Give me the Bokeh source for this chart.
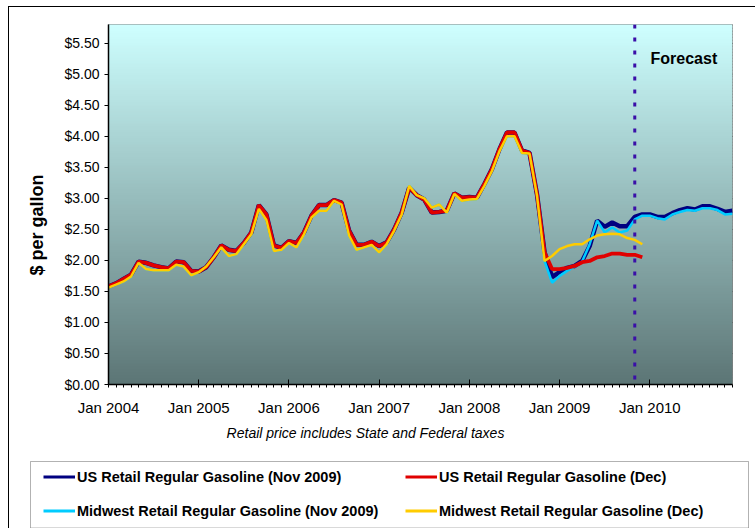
import numpy as np
from bokeh.plotting import figure
from bokeh.layouts import column
from bokeh.models import (Range1d, FixedTicker, NumeralTickFormatter, Span, Label,
                          Legend, LegendItem, Title, BoxAnnotation)
from bokeh.embed import file_html
from bokeh.resources import INLINE

# ---------------- data ----------------
years = [2004, 2005, 2006, 2007, 2008, 2009, 2010]
month_names = ["Jan", "Feb", "Mar", "Apr", "May", "Jun",
               "Jul", "Aug", "Sep", "Oct", "Nov", "Dec"]
months = [f"{m} {y}" for y in years for m in month_names]   # Jan 2004 .. Dec 2010
tick_labels = ["Jan 2004", "Jan 2005", "Jan 2006", "Jan 2007",
               "Jan 2008", "Jan 2009", "Jan 2010"]

# US Retail Regular Gasoline (Dec) - Jan 2004 .. Dec 2009
us_dec = [1.58, 1.63, 1.70, 1.77, 1.98, 1.96, 1.92, 1.89, 1.87, 1.98, 1.97, 1.83,
          1.82, 1.89, 2.05, 2.24, 2.17, 2.15, 2.28, 2.45, 2.89, 2.74, 2.24, 2.20,
          2.31, 2.28, 2.45, 2.72, 2.89, 2.89, 2.97, 2.93, 2.48, 2.25, 2.25, 2.30,
          2.23, 2.29, 2.50, 2.77, 3.17, 3.05, 2.98, 2.77, 2.78, 2.80, 3.08, 3.01,
          3.02, 3.01, 3.23, 3.47, 3.79, 4.06, 4.06, 3.77, 3.73, 3.06, 2.13, 1.86,
          1.86, 1.88, 1.91, 1.97, 1.99, 2.05, 2.07, 2.11, 2.11, 2.09, 2.09, 2.05]

# Midwest Retail Regular Gasoline (Dec) - Jan 2004 .. Dec 2009
mw_dec = [1.56, 1.61, 1.66, 1.74, 1.96, 1.86, 1.84, 1.84, 1.84, 1.93, 1.90, 1.76,
          1.81, 1.90, 2.05, 2.21, 2.07, 2.10, 2.26, 2.42, 2.83, 2.65, 2.15, 2.17,
          2.28, 2.21, 2.42, 2.69, 2.80, 2.80, 2.96, 2.90, 2.40, 2.17, 2.21, 2.25,
          2.13, 2.26, 2.48, 2.74, 3.20, 3.05, 3.00, 2.85, 2.90, 2.77, 3.07, 2.96,
          2.98, 2.99, 3.20, 3.44, 3.76, 4.00, 4.00, 3.73, 3.72, 3.04, 1.99, 2.07,
          2.18, 2.23, 2.26, 2.26, 2.34, 2.40, 2.42, 2.43, 2.42, 2.36, 2.33, 2.26]

# US Retail Regular Gasoline (Nov 2009) - Jan 2004 .. Dec 2010
us_nov = [1.58, 1.63, 1.70, 1.77, 1.98, 1.96, 1.92, 1.89, 1.87, 1.98, 1.97, 1.83,
          1.82, 1.89, 2.05, 2.24, 2.17, 2.15, 2.28, 2.45, 2.89, 2.74, 2.24, 2.20,
          2.31, 2.28, 2.45, 2.72, 2.89, 2.89, 2.97, 2.93, 2.48, 2.25, 2.25, 2.30,
          2.23, 2.29, 2.50, 2.77, 3.17, 3.05, 2.98, 2.77, 2.78, 2.80, 3.08, 3.01,
          3.02, 3.01, 3.23, 3.47, 3.79, 4.06, 4.06, 3.77, 3.73, 3.06, 2.13, 1.73,
          1.81, 1.88, 1.91, 1.99, 2.23, 2.64, 2.54, 2.61, 2.55, 2.55, 2.70, 2.74,
          2.74, 2.70, 2.70, 2.76, 2.81, 2.84, 2.82, 2.87, 2.87, 2.83, 2.78, 2.80]

# Midwest Retail Regular Gasoline (Nov 2009) - Jan 2004 .. Dec 2010
mw_nov = [1.56, 1.61, 1.66, 1.74, 1.96, 1.86, 1.84, 1.84, 1.84, 1.93, 1.90, 1.76,
          1.81, 1.90, 2.05, 2.21, 2.07, 2.10, 2.26, 2.42, 2.83, 2.65, 2.15, 2.17,
          2.28, 2.21, 2.42, 2.69, 2.80, 2.80, 2.96, 2.90, 2.40, 2.17, 2.21, 2.25,
          2.13, 2.26, 2.48, 2.74, 3.20, 3.05, 3.00, 2.85, 2.90, 2.77, 3.07, 2.96,
          2.98, 2.99, 3.20, 3.44, 3.76, 4.00, 4.00, 3.73, 3.72, 3.04, 1.99, 1.64,
          1.75, 1.83, 1.90, 1.98, 2.26, 2.64, 2.45, 2.53, 2.45, 2.48, 2.66, 2.72,
          2.72, 2.68, 2.66, 2.74, 2.78, 2.81, 2.80, 2.84, 2.84, 2.81, 2.74, 2.75]

series_names = ["US Retail Regular Gasoline (Nov 2009)",
                "US Retail Regular Gasoline (Dec)",
                "Midwest Retail Regular Gasoline (Nov 2009)",
                "Midwest Retail Regular Gasoline (Dec)"]
series_colors = ["#000080", "#E00000", "#00CCFF", "#FFCC00"]

forecast_month = "Nov 2009"
y_ticks = [0.0, 0.5, 1.0, 1.5, 2.0, 2.5, 3.0, 3.5, 4.0, 4.5, 5.0, 5.5]

# ---------------- main figure ----------------
FONT = "Liberation Sans"
x_all = list(range(len(months)))
x_dec = list(range(len(us_dec)))
W = 746

p = figure(width=W, height=411, output_backend="svg", toolbar_location=None,
           x_range=Range1d(0, len(months) - 1), y_range=Range1d(0, 5.8),
           min_border_left=97, min_border_right=23, min_border_top=17,
           min_border_bottom=34, background_fill_color="white",
           border_fill_color="white", outline_line_color="#808080",
           outline_line_width=1)

# background gradient of the plot area
n_bands = 120
edges = np.linspace(0, 5.8, n_bands + 1)
top_rgb = np.array([206, 255, 255])
bot_rgb = np.array([92, 117, 117])
mids = (edges[:-1] + edges[1:]) / 2 / 5.8
cols = ["#%02x%02x%02x" % tuple(np.round(bot_rgb + (top_rgb - bot_rgb) * t).astype(int))
        for t in mids]
p.quad(left=0, right=len(months) - 1, bottom=edges[:-1], top=edges[1:] + 0.02,
       fill_color=cols, line_color=None)

p.xgrid.visible = False
p.ygrid.ticker = FixedTicker(ticks=y_ticks)
p.ygrid.grid_line_color = "#000000"
p.ygrid.grid_line_width = 1

# series
r_usnov = p.line(x_all, us_nov, line_color=series_colors[0], line_width=4.5)
r_mwnov = p.line(x_all, mw_nov, line_color=series_colors[2], line_width=2.5)
r_usdec = p.line(x_dec, us_dec, line_color=series_colors[1], line_width=3.8)
r_mwdec = p.line(x_dec, mw_dec, line_color=series_colors[3], line_width=2.5)

# forecast divider
p.add_layout(Span(location=months.index(forecast_month), dimension="height",
                  line_color="#3A0FA8", line_width=3, line_dash="4 9"))
p.add_layout(Label(x=72.1, y=5.25, text="Forecast", text_font=FONT,
                   text_font_size="16px", text_font_style="bold",
                   text_baseline="middle", text_color="black"))

# axes
p.yaxis.ticker = FixedTicker(ticks=y_ticks)
p.yaxis.formatter = NumeralTickFormatter(format="$0.00")
p.yaxis.major_tick_out = 4
p.yaxis.major_tick_in = 0
p.yaxis.major_label_standoff = 5

p.xaxis.ticker = FixedTicker(ticks=[months.index(t) for t in tick_labels],
                             minor_ticks=x_all)
p.xaxis.major_label_overrides = {months.index(t): t for t in tick_labels}
p.xaxis.major_tick_in = 5
p.xaxis.major_tick_out = 2
p.xaxis.minor_tick_in = 0
p.xaxis.minor_tick_out = 3
p.xaxis.major_label_standoff = 11

for ax in (p.xaxis, p.yaxis):
    ax.axis_line_color = "black"
    ax.axis_line_width = 1.5
    ax.major_tick_line_color = "black"
    ax.minor_tick_line_color = "black"
    ax.major_label_text_font = FONT
    ax.major_label_text_color = "black"
p.yaxis.minor_tick_line_color = None
p.yaxis.major_label_text_font_size = "14px"
p.xaxis.major_label_text_font_size = "15px"

# y-axis title (placed lower than centre, like the original)
p.add_layout(Title(text="$ per gallon", align="left", offset=109, standoff=30,
                   text_font=FONT, text_font_size="18px", text_font_style="bold",
                   text_color="black"), "left")

# ---------------- legend / note strip ----------------
LH = 110
q = figure(width=W, height=LH, output_backend="svg", toolbar_location=None,
           x_range=Range1d(0, W), y_range=Range1d(LH, 0),
           x_axis_location=None, y_axis_location=None,
           min_border=0, outline_line_color=None,
           background_fill_color="white", border_fill_color="white")
q.frame_align = False
q.grid.visible = False

q.add_layout(Label(x=356, y=14, text="Retail price includes State and Federal taxes",
                   text_font=FONT, text_font_size="14px", text_font_style="italic",
                   text_align="center", text_baseline="middle", text_color="black"))

q.add_layout(BoxAnnotation(left=21, right=739, top=43, bottom=109.5,
                           fill_alpha=0, line_color="black", line_width=1))

# legend-only renderers (no visible points)
dummies = [q.line(x=[np.nan], y=[np.nan], line_color=c, line_width=3)
           for c in series_colors]

common = dict(label_text_font=FONT, label_text_font_size="14.5px",
              label_text_font_style="bold", label_text_color="black",
              label_standoff=2, glyph_width=32, glyph_height=17, label_height=17,
              padding=0, spacing=17, margin=0, border_line_color=None,
              background_fill_alpha=0)
leg_a = Legend(items=[LegendItem(label=series_names[0], renderers=[dummies[0]]),
                      LegendItem(label=series_names[2], renderers=[dummies[2]])],
               location=(34, 9), **common)
leg_b = Legend(items=[LegendItem(label=series_names[1], renderers=[dummies[1]]),
                      LegendItem(label=series_names[3], renderers=[dummies[3]])],
               location=(396, 9), **common)
q.add_layout(leg_a, "center")
q.add_layout(leg_b, "center")

layout = column(p, q, margin=(6, 0, 0, 8),
                styles={"border-left": "1px solid black", "border-top": "1px solid black"})

open("out.html", "w").write(file_html(layout, INLINE))
